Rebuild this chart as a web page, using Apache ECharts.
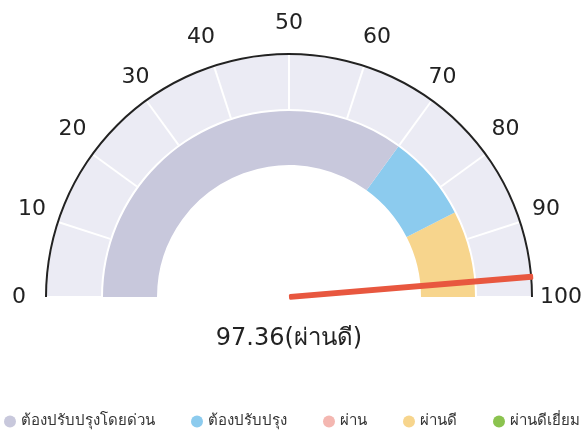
<!DOCTYPE html>
<html>
<head>
<meta charset="utf-8">
<script src="https://cdn.jsdelivr.net/npm/echarts@6/dist/echarts.min.js"></script>
<style>
  html, body { margin: 0; padding: 0; background: #fff; }
  #chart { width: 587px; height: 438px; }
</style>
</head>
<body>
<div id="chart"></div>
<script>
// levels shown in the legend
const levelNames = ['ต้องปรับปรุงโดยด่วน', 'ต้องปรับปรุง', 'ผ่าน', 'ผ่านดี', 'ผ่านดีเยี่ยม'];
const levelColors = ['#c8c8dc', '#8ccbee', '#f4b7b1', '#f7d58d', '#8bc34f'];

// coloured bands on the inner ring (upper bound of each band)
const bandLevels = ['ต้องปรับปรุงโดยด่วน', 'ต้องปรับปรุง', 'ผ่านดี'];
const bandEnds = [70, 85, 100];

const scaleMin = 0;
const scaleMax = 100;
const scaleSteps = 10;

const score = 97.36;
const scoreLevel = 'ผ่านดี';

const font = '"DejaVu Sans", sans-serif';
const chart = echarts.init(document.getElementById('chart'), null, { renderer: 'canvas' });

const bandStops = bandEnds.map((end, i) => [
  (end - scaleMin) / (scaleMax - scaleMin),
  levelColors[levelNames.indexOf(bandLevels[i])]
]);

const center = [289, 297];
const base = {
  type: 'gauge',
  center: center,
  startAngle: 180,
  endAngle: 0,
  min: scaleMin,
  max: scaleMax,
  splitNumber: scaleSteps,
  silent: true,
  axisTick: { show: false },
  splitLine: { show: false },
  axisLabel: { show: false },
  pointer: { show: false },
  title: { show: false },
  detail: { show: false }
};

// end labels sit level with the centre, nudge them outward a bit
const labelFmt = v => {
  if (v === scaleMin) return '{lo|' + v + '}';
  if (v === scaleMax) return '{hi|' + v + '}';
  return String(v);
};

const option = {
  animation: false,
  legend: {
    bottom: 4,
    left: 4,
    padding: [5, 0],
    icon: 'circle',
    itemWidth: 12,
    itemHeight: 12,
    itemGap: 36,
    textStyle: { fontFamily: font, fontSize: 15, color: '#333' },
    data: levelNames
  },
  series: [
    // outer pale ring with white split lines and scale labels
    Object.assign({}, base, {
      radius: 242,
      axisLine: { lineStyle: { width: 54, color: [[1, '#ebebf4']] } },
      splitLine: { show: true, distance: -54, length: 54, lineStyle: { color: '#fff', width: 2 } },
      axisLabel: {
        show: true, distance: -43, color: '#222', fontSize: 22, fontFamily: font,
        formatter: labelFmt,
        rich: {
          lo: { fontSize: 22, fontFamily: font, color: '#222', padding: [0, 0, 0, 8] },
          hi: { fontSize: 22, fontFamily: font, color: '#222', padding: [0, -8, 0, 0] }
        }
      }
    }),
    // black rim
    Object.assign({}, base, {
      radius: 244,
      axisLine: { lineStyle: { width: 2, color: [[1, '#222']] } }
    }),
    // inner coloured ring + needle + reading
    Object.assign({}, base, {
      radius: 186,
      axisLine: { lineStyle: { width: 54, color: bandStops } },
      pointer: {
        show: true,
        icon: 'roundRect',
        length: 245,
        width: 6,
        itemStyle: { color: '#e8573f' }
      },
      detail: {
        show: true,
        offsetCenter: [0, 42],
        fontSize: 24,
        fontFamily: font,
        fontWeight: 'normal',
        color: '#222',
        formatter: v => v + '(' + scoreLevel + ')'
      },
      data: [{ value: score, name: scoreLevel }]
    }),
    // legend carrier, drawn off screen
    {
      type: 'pie',
      center: [-500, -500],
      radius: 1,
      silent: true,
      label: { show: false },
      data: levelNames.map((n, i) => ({ name: n, value: 1, itemStyle: { color: levelColors[i] } }))
    }
  ]
};

chart.setOption(option);
</script>
</body>
</html>
